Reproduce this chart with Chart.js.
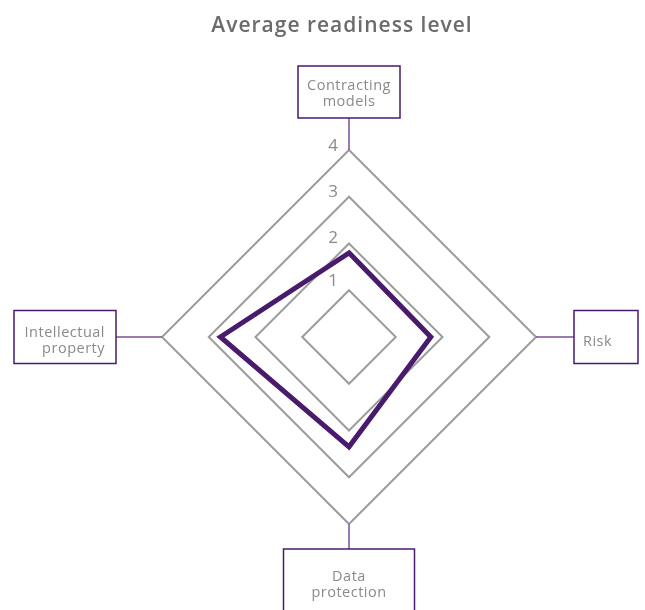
<!DOCTYPE html>
<html>
<head>
<meta charset="utf-8">
<script src="https://cdn.jsdelivr.net/npm/chart.js@4/dist/chart.umd.min.js"></script>
<style>
  html, body { margin: 0; padding: 0; background: #fff; }
  #wrap { width: 645px; height: 610px; }
</style>
</head>
<body>
<div id="wrap"><canvas id="radar"></canvas></div>
<script>
// data
var kategorien = [['Contracting', 'models'], ['Risk'], ['Data', 'protection'], ['Intellectual', 'property']];
var werte = [1.8, 1.75, 2.35, 2.75];
var tickWerte = [1, 2, 3, 4];
var titelText = 'Average readiness level';

// label box styles (gap from vertex, box size, text align, text offset)
var boxStil = [
  { gap: 32, w: 102, h: 52, align: 'center', dy: 2 },
  { gap: 38, w: 64, h: 53, align: 'left', dy: 2 },
  { gap: 25, w: 131, h: 80, align: 'center', dy: 1 },
  { gap: 46, w: 102, h: 53, align: 'right', dy: 4 }
];

var LILA = '#4a1a6c';
var GRAU_TEXT = '#8a8a8a';

var boxPlugin = {
  id: 'boxPlugin',
  afterDraw: function(chart) {
    var ctx = chart.ctx;
    var scale = chart.scales.r;
    ctx.save();

    // title
    ctx.font = '600 21px "Open Sans"';
    ctx.letterSpacing = '1px';
    ctx.fillStyle = '#6b6b6b';
    ctx.textAlign = 'center';
    ctx.textBaseline = 'middle';
    ctx.fillText(titelText, 342, 26);
    ctx.letterSpacing = '0px';

    // tick labels left of the axis
    ctx.font = '17px "Open Sans"';
    ctx.fillStyle = GRAU_TEXT;
    var tickY = [280, 237, 191.5, 147.5];
    for (var t = 0; t < tickWerte.length; t++) {
      var d = scale.getDistanceFromCenterForValue(tickWerte[t]);
      var y = scale.yCenter - d - 5 - (4 - tickWerte[t]) * 0.5 - (tickWerte[t] == 1 ? 4 : 0);
      ctx.fillText(String(tickWerte[t]), scale.xCenter - 16, y + 1);
    }

    // boxes + connectors
    ctx.font = '14.5px "Open Sans"';
    ctx.letterSpacing = '0.5px';
    for (var i = 0; i < kategorien.length; i++) {
      var p = scale.getPointPosition(i, scale.drawingArea);
      var s = boxStil[i];
      var bx, by, lx2, ly2;
      if (i === 0) { bx = p.x - s.w / 2; by = p.y - s.gap - s.h; lx2 = p.x; ly2 = p.y - s.gap; }
      if (i === 1) { bx = p.x + s.gap; by = p.y - s.h / 2; lx2 = bx; ly2 = p.y; }
      if (i === 2) { bx = p.x - s.w / 2; by = p.y + s.gap; lx2 = p.x; ly2 = by; }
      if (i === 3) { bx = p.x - s.gap - s.w; by = p.y - s.h / 2; lx2 = bx + s.w; ly2 = p.y; }

      ctx.strokeStyle = '#7a4f99';
      ctx.lineWidth = 1.5;
      ctx.beginPath();
      ctx.moveTo(p.x, p.y);
      ctx.lineTo(lx2, ly2);
      ctx.stroke();

      ctx.strokeStyle = LILA;
      ctx.lineWidth = 1.5;
      ctx.strokeRect(bx, by, s.w, s.h);

      ctx.fillStyle = GRAU_TEXT;
      ctx.textBaseline = 'middle';
      var zeilen = kategorien[i];
      var tx, ty0;
      if (s.align === 'center') tx = bx + s.w / 2;
      if (s.align === 'left') tx = bx + 9;
      if (s.align === 'right') tx = bx + s.w - 11;
      ctx.textAlign = s.align;
      if (i === 2) ty0 = by + 27;
      else ty0 = by + s.h / 2 - (zeilen.length - 1) * 8 + (zeilen.length == 1 ? 3 : 0);
      for (var z = 0; z < zeilen.length; z++) {
        ctx.fillText(zeilen[z], tx, ty0 + s.dy + z * 16);
      }
    }
    ctx.restore();
  }
};

const CHART = document.getElementById('radar');

let radarDiagramm = new Chart(CHART, {
  type: 'radar',
  data: {
    labels: kategorien.map(function(k) { return k.join(' '); }),
    datasets: [{
      data: werte,
      fill: false,
      borderColor: LILA,
      borderWidth: 5,
      borderJoinStyle: 'miter',
      pointRadius: 0,
      pointHoverRadius: 0
    }]
  },
  options: {
    responsive: true,
    maintainAspectRatio: false,
    animation: false,
    events: [],
    layout: { padding: { top: 150, bottom: 86, left: 162, right: 109 } },
    plugins: {
      legend: { display: false },
      title: { display: false },
      tooltip: { enabled: false }
    },
    scales: {
      r: {
        min: 0,
        max: 4,
        ticks: { display: false, stepSize: 1 },
        grid: { color: '#9c9c9c', lineWidth: 2 },
        angleLines: { display: false },
        pointLabels: { display: false }
      }
    }
  },
  plugins: [boxPlugin]
});
</script>
</body>
</html>
